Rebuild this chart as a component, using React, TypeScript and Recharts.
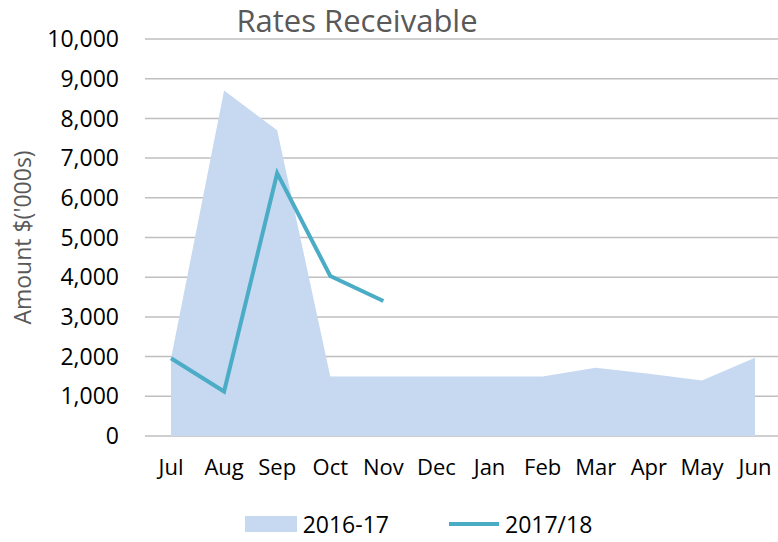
import React from "react";
import { ComposedChart, Area, Line, XAxis, YAxis, CartesianGrid, Legend } from "recharts";

const months = ["Jul", "Aug", "Sep", "Oct", "Nov", "Dec", "Jan", "Feb", "Mar", "Apr", "May", "Jun"];
const rates1617 = [1950, 8700, 7700, 1500, 1500, 1500, 1500, 1500, 1720, 1570, 1400, 1970];
const rates1718: (number | null)[] = [1960, 1120, 6620, 4030, 3400, null, null, null, null, null, null, null];
const yTicks = [0, 1000, 2000, 3000, 4000, 5000, 6000, 7000, 8000, 9000, 10000];

const data = months.map((m, i) => ({ month: m, a1617: rates1617[i], a1718: rates1718[i] }));

const FONT = "'Open Sans', 'Noto Sans', sans-serif";
const AREA_COLOR = "#c6d9f0";
const LINE_COLOR = "#4bacc6";

function LegendBox() {
  return (
    <div style={{ display: "flex", justifyContent: "center", alignItems: "center", fontFamily: FONT, fontSize: 23, color: "#000", height: 36, paddingLeft: 59 }}>
      <div style={{ display: "flex", alignItems: "center", marginRight: 60 }}>
        <div style={{ width: 52, height: 16, background: AREA_COLOR, marginRight: 6 }} />
        <span>2016-17</span>
      </div>
      <div style={{ display: "flex", alignItems: "center" }}>
        <div style={{ width: 50, height: 4, background: LINE_COLOR, marginRight: 6 }} />
        <span>2017/18</span>
      </div>
    </div>
  );
}

export default function App() {
  return (
    <div style={{ position: "absolute", left: 0, top: 0, width: 778, height: 542, background: "#fff", fontFamily: FONT }}>
      <div style={{ position: "absolute", top: 0, left: 0, width: 714, textAlign: "center", fontSize: 31, lineHeight: "40px", color: "#595959" }}>
        Rates Receivable
      </div>
      <ComposedChart width={778} height={542} data={data} margin={{ top: 39, right: 0, bottom: 0, left: 0 }}>
        <CartesianGrid horizontal={true} vertical={false} stroke="#bfbfbf" strokeWidth={1.5} />
        <XAxis
          dataKey="month"
          axisLine={false}
          tickLine={false}
          tickSize={0}
          tickMargin={23}
          height={70}
          padding={{ left: 26, right: 23 }}
          tick={{ fill: "#000", fontSize: 22, fontFamily: FONT }}
        />
        <YAxis
          domain={[0, 10000]}
          ticks={yTicks}
          width={145}
          axisLine={false}
          tickLine={false}
          tickSize={0}
          tickMargin={26}
          tickFormatter={(v: number) => v.toLocaleString("en-US")}
          tick={{ fill: "#000", fontSize: 23, fontFamily: FONT }}
          label={{ value: "Amount $('000s)", angle: -90, position: "center", dx: -50, fill: "#595959", fontSize: 23, fontFamily: FONT }}
        />
        <Area type="linear" dataKey="a1617" name="2016-17" fill={AREA_COLOR} fillOpacity={1} stroke="none" isAnimationActive={false} />
        <Line type="linear" dataKey="a1718" name="2017/18" stroke={LINE_COLOR} strokeWidth={4} dot={false} activeDot={false} isAnimationActive={false} />
        <Legend verticalAlign="bottom" height={36} content={() => <LegendBox />} />
      </ComposedChart>
    </div>
  );
}
